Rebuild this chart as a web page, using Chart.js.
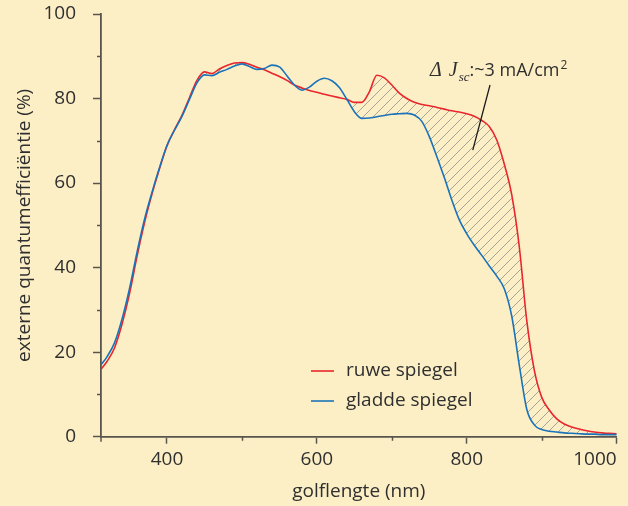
<!DOCTYPE html>
<html>
<head>
<meta charset="utf-8">
<script src="https://cdn.jsdelivr.net/npm/chart.js@4.4.1/dist/chart.umd.min.js"></script>
<style>
  html, body { margin: 0; padding: 0; background: #fcefc6; }
  canvas { display: block; }
</style>
</head>
<body>
<canvas id="eqeChart" width="628" height="506"></canvas>
<script>
// Wavelength grid (nm) and EQE (%)
const wavelengths = [312, 320, 330, 340, 350, 360, 370, 380, 390, 400,
    410, 420, 430, 440, 450, 460, 470, 480, 490, 500,
    510, 520, 530, 540, 550, 560, 570, 580, 590, 600,
    610, 620, 630, 640, 650, 660, 670, 680, 690, 700,
    710, 720, 730, 740, 750, 760, 770, 780, 790, 800,
    810, 820, 830, 840, 850, 860, 870, 880, 890, 900,
    910, 920, 930, 940, 950, 960, 970, 980, 990, 1000];

const ruweSpiegel = [16.0, 17.8, 21.0, 26.6, 33.8, 42.6, 50.6, 57.4, 63.4, 68.8,
    72.6, 76.0, 80.2, 84.3, 86.3, 85.9, 87.0, 87.8, 88.4, 88.5,
    88.1, 87.4, 86.8, 86.0, 85.2, 84.3, 83.2, 82.5, 81.9, 81.5,
    81.0, 80.6, 80.2, 79.8, 79.1, 79.1, 81.6, 85.5, 84.9, 83.2,
    81.3, 80.0, 79.1, 78.6, 78.3, 77.9, 77.5, 77.1, 76.8, 76.4,
    75.8, 74.8, 73.4, 70.2, 64.5, 57.2, 45.0, 27.5, 15.8, 9.3,
    6.3, 4.2, 3.0, 2.3, 1.8, 1.4, 1.1, 0.9, 0.8, 0.7];

const gladdeSpiegel = [17.0, 18.9, 22.2, 27.8, 35.0, 43.6, 51.4, 57.8, 63.6, 68.9,
    72.5, 75.8, 79.8, 83.7, 85.6, 85.4, 86.2, 86.9, 87.7, 88.2,
    87.6, 86.9, 87.1, 87.9, 87.5, 85.4, 83.2, 82.0, 82.7, 84.1,
    84.8, 84.2, 82.6, 79.8, 76.9, 75.3, 75.4, 75.7, 76.0, 76.3,
    76.4, 76.5, 76.1, 74.6, 71.0, 66.3, 61.3, 56.0, 51.3, 48.0,
    45.3, 42.9, 40.4, 38.0, 35.0, 28.5, 17.0, 6.5, 2.8, 1.7,
    1.3, 1.1, 0.9, 0.8, 0.7, 0.6, 0.6, 0.5, 0.5, 0.5];

const xLabelTicks = [312, 400, 600, 800, 1000];
const xMinorTicks = [500, 700, 900];
const yMinorTicks = [10, 30, 50, 70, 90];

// Annotation anchors in data units (nm, %)
const annotationLine = [[831, 83.2], [808, 67.8]];
const annotationLabel = [751, 85.3];

const BG = '#fcefc6';
const RED = '#e8262c';
const BLUE = '#1a73ba';
const AXIS = '#59544e';
const TEXT = '#2f2f2f';
const FONT = "'Open Sans', Roboto, sans-serif";

// Diagonal hatching for the gap between the two curves
function makeHatch() {
    const c = document.createElement('canvas');
    c.width = 10; c.height = 10;
    const g = c.getContext('2d');
    g.strokeStyle = '#9b9a92';
    g.lineWidth = 0.9;
    g.beginPath();
    g.moveTo(0, 10); g.lineTo(10, 0);
    g.moveTo(-1, 1); g.lineTo(1, -1);
    g.moveTo(9, 11); g.lineTo(11, 9);
    g.stroke();
    return g.createPattern(c, 'repeat');
}

const overlay = {
    id: 'overlay',
    beforeDraw(chart) {
        const ctx = chart.ctx;
        ctx.save();
        ctx.fillStyle = BG;
        ctx.fillRect(0, 0, chart.width, chart.height);
        ctx.restore();
    },
    afterDraw(chart) {
        const ctx = chart.ctx;
        const xs = chart.scales.x, ys = chart.scales.y;
        const area = chart.chartArea;
        ctx.save();

        // minor ticks
        ctx.strokeStyle = AXIS;
        ctx.lineWidth = 1.5;
        ctx.beginPath();
        xMinorTicks.forEach(v => {
            const px = Math.round(xs.getPixelForValue(v)) + 0.5;
            ctx.moveTo(px, area.bottom);
            ctx.lineTo(px, area.bottom + 4);
        });
        yMinorTicks.forEach(v => {
            const py = Math.round(ys.getPixelForValue(v)) + 0.5;
            ctx.moveTo(area.left, py);
            ctx.lineTo(area.left - 4, py);
        });
        // y axis runs a bit below the origin
        ctx.moveTo(area.left, area.bottom);
        ctx.lineTo(area.left, area.bottom + 5);
        ctx.stroke();

        // legend
        const legend = [['ruwe spiegel', RED], ['gladde spiegel', BLUE]];
        ctx.font = '19px ' + FONT;
        ctx.textBaseline = 'middle';
        ctx.textAlign = 'left';
        legend.forEach(([label, color], i) => {
            const ly = 371 + i * 30;
            ctx.strokeStyle = color;
            ctx.lineWidth = 1.6;
            ctx.beginPath();
            ctx.moveTo(311, ly);
            ctx.lineTo(334, ly);
            ctx.stroke();
            ctx.fillStyle = TEXT;
            ctx.fillText(label, 346, ly);
        });

        // ΔJsc annotation
        const p0 = annotationLine[0], p1 = annotationLine[1];
        ctx.strokeStyle = '#1c1c1c';
        ctx.lineWidth = 1.3;
        ctx.beginPath();
        ctx.moveTo(xs.getPixelForValue(p0[0]), ys.getPixelForValue(p0[1]));
        ctx.lineTo(xs.getPixelForValue(p1[0]), ys.getPixelForValue(p1[1]));
        ctx.stroke();

        let tx = xs.getPixelForValue(annotationLabel[0]);
        const ty = ys.getPixelForValue(annotationLabel[1]);
        ctx.fillStyle = TEXT;
        ctx.textBaseline = 'alphabetic';
        ctx.font = "italic 20px 'Liberation Serif', serif";
        ctx.fillText('Δ', tx, ty);
        tx += ctx.measureText('Δ').width + 7;
        ctx.fillText('J', tx, ty);
        tx += ctx.measureText('J').width + 1;
        ctx.font = "italic 13px 'Liberation Serif', serif";
        ctx.fillText('sc', tx, ty + 5);
        tx += ctx.measureText('sc').width;
        ctx.font = "18px 'Open Sans', sans-serif";
        ctx.fillText(':~3 mA/cm', tx, ty);
        tx += ctx.measureText(':~3 mA/cm').width;
        ctx.font = "12px 'Open Sans', sans-serif";
        ctx.fillText('2', tx + 1, ty - 7);

        ctx.restore();
    }
};

const toPoints = ys => wavelengths.map((w, i) => ({ x: w, y: ys[i] }));

new Chart(document.getElementById('eqeChart'), {
    type: 'line',
    data: {
        datasets: [
            {
                label: 'gladde spiegel',
                data: toPoints(gladdeSpiegel),
                borderColor: BLUE,
                borderWidth: 1.6,
                pointRadius: 0,
                cubicInterpolationMode: 'monotone',
                fill: { target: 1, above: 'rgba(0,0,0,0)', below: makeHatch() }
            },
            {
                label: 'ruwe spiegel',
                data: toPoints(ruweSpiegel),
                borderColor: RED,
                borderWidth: 1.6,
                pointRadius: 0,
                cubicInterpolationMode: 'monotone',
                fill: false
            }
        ]
    },
    options: {
        responsive: false,
        animation: false,
        layout: { padding: { top: 14, right: 11.3, bottom: 0, left: 0 } },
        plugins: {
            legend: { display: false },
            tooltip: { enabled: false },
            filler: { drawTime: 'beforeDatasetsDraw' }
        },
        scales: {
            x: {
                type: 'linear',
                min: 312,
                max: 1000,
                afterBuildTicks: s => { s.ticks = xLabelTicks.map(v => ({ value: v })); },
                afterFit: s => { s.height = 69.3; },
                border: { color: AXIS, width: 1.8 },
                grid: {
                    drawOnChartArea: false,
                    tickLength: 7,
                    tickWidth: 1.5,
                    tickColor: c => (c.tick && c.tick.value === 312) ? 'rgba(0,0,0,0)' : AXIS
                },
                ticks: {
                    autoSkip: false,
                    maxRotation: 0,
                    align: 'inner',
                    padding: 4,
                    color: TEXT,
                    font: { family: FONT, size: 19 },
                    callback: v => v === 312 ? '' : v
                },
                title: {
                    display: true,
                    text: 'golflengte (nm)',
                    color: TEXT,
                    font: { family: FONT, size: 19 },
                    padding: { top: 0, bottom: 3 }
                }
            },
            y: {
                min: 0,
                max: 100,
                afterFit: s => { s.width = 101; s.paddingTop = 0; s.paddingBottom = 0; },
                border: { color: AXIS, width: 1.8 },
                grid: {
                    drawOnChartArea: false,
                    tickLength: 8,
                    tickWidth: 1.5,
                    tickColor: AXIS
                },
                ticks: {
                    stepSize: 20,
                    padding: 17,
                    color: TEXT,
                    font: { family: FONT, size: 19 }
                },
                title: {
                    display: true,
                    text: 'externe quantumefficiëntie (%)',
                    color: TEXT,
                    font: { family: FONT, size: 19 },
                    padding: { top: 13, bottom: 0 }
                }
            }
        }
    },
    plugins: [overlay]
});
</script>
</body>
</html>
